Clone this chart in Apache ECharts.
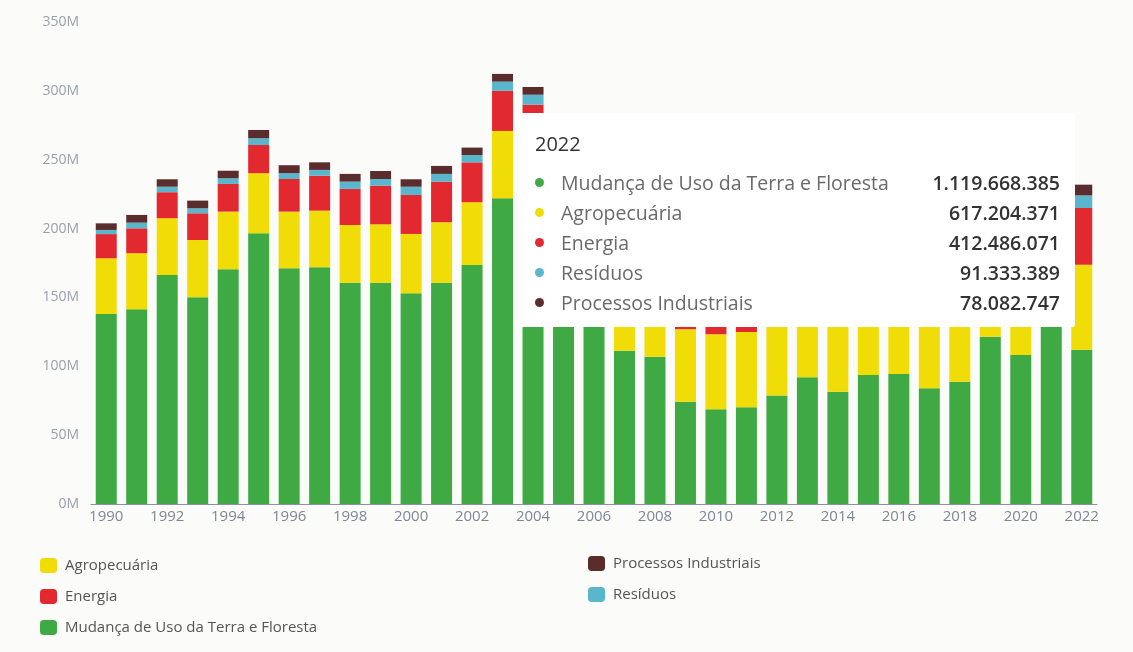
<!DOCTYPE html>
<html>
<head>
<meta charset="utf-8">
<script src="https://cdn.jsdelivr.net/npm/echarts@6/dist/echarts.min.js"></script>
<style>
  html, body { margin: 0; padding: 0; background: #fbfbfa; }
  #chart { width: 1133px; height: 652px; }
</style>
</head>
<body>
<div id="chart"></div>
<script>
// emissions per year, in millions
const years = ['1990', '1991', '1992', '1993', '1994', '1995', '1996', '1997', '1998', '1999', '2000',
  '2001', '2002', '2003', '2004', '2005', '2006', '2007', '2008', '2009', '2010', '2011',
  '2012', '2013', '2014', '2015', '2016', '2017', '2018', '2019', '2020', '2021', '2022']

const mudanca = [138, 141.4, 166.3, 150.1, 170.4, 196.6, 171.2, 171.9, 160.7, 160.7, 153,
  160.7, 173.6, 222, 212, 172, 145, 111.3, 107, 74.3, 68.8, 70.2,
  78.7, 92, 81.6, 93.7, 94.4, 84, 88.8, 121.5, 108.2, 140, 111.97]
const agro = [40.4, 40.7, 41.2, 41.6, 41.9, 43.6, 41.1, 41.1, 41.9, 42.4, 43.1,
  43.9, 45.5, 48.9, 48, 50, 51, 53, 54, 52.6, 54.4, 54.7,
  56, 57, 58, 58, 59, 60, 60, 61, 61, 62, 61.72]
const energia = [17.6, 18.1, 18.9, 19.4, 20.1, 20.5, 23.7, 25.4, 26.2, 28.1, 28.3,
  29.5, 29, 29.2, 30, 30, 31, 32, 33, 32, 35, 36,
  38, 39, 41, 39, 37, 37, 36, 37, 36, 40, 41.25]
const residuos = [3, 4.1, 4, 3.6, 4.1, 4.9, 4.2, 4.2, 5.3, 4.8, 6,
  5.6, 5.3, 6.6, 7.2, 6.5, 6.7, 6.8, 7, 7.1, 7.3, 7.5,
  7.7, 7.9, 8.1, 8.3, 8.5, 8.7, 8.9, 9, 9.1, 9.2, 9.13]
const processos = [4.8, 5.6, 5.4, 5.6, 5.5, 6, 5.8, 5.5, 5.6, 5.8, 5.4,
  5.8, 5.4, 5.6, 5.6, 5.8, 6, 6.2, 6.4, 6, 6.8, 7,
  7, 7.2, 7.1, 7, 6.8, 7, 7.2, 7.4, 7.3, 7.8, 7.81]

// the tooltip shown for 2022, as printed
const tipYear = '2022'
const tipNames = ['Mudança de Uso da Terra e Floresta', 'Agropecuária', 'Energia', 'Resíduos', 'Processos Industriais']
const tipValues = [1119668385, 617204371, 412486071, 91333389, 78082747]

const COLORS = {
  'Mudança de Uso da Terra e Floresta': '#3faa44',
  'Agropecuária': '#f0dc06',
  'Energia': '#e2292f',
  'Resíduos': '#5ab6cc',
  'Processos Industriais': '#5a2c2b',
}

const fmt = (v) => String(v).replace(/\B(?=(\d{3})+(?!\d))/g, '.')

const makeSeries = (name, data) => ({
  name,
  type: 'bar',
  stack: 'total',
  data,
  barWidth: 21,
  itemStyle: { color: COLORS[name] },
  emphasis: { disabled: true },
})

const legendBase = {
  orient: 'vertical',
  itemGap: 16,
  itemWidth: 17,
  itemHeight: 15,
  icon: 'roundRect',
  selectedMode: false,
  textStyle: { color: '#555', fontSize: 15, padding: [0, 0, 0, 3] },
}

const chart = echarts.init(document.getElementById('chart'))

chart.setOption({
  animation: false,
  backgroundColor: '#fbfbfa',
  textStyle: { fontFamily: '"Open Sans", sans-serif' },
  grid: { left: 91, right: 36, top: 22, bottom: 148 },
  tooltip: {
    trigger: 'axis',
    triggerOn: 'none',
    alwaysShowContent: true,
    axisPointer: { type: 'none' },
    position: [518, 113],
    transitionDuration: 0,
    backgroundColor: '#ffffff',
    borderWidth: 0,
    padding: [17, 15, 10, 17],
    extraCssText: 'box-shadow:none;border-radius:2px;width:525px;',
    formatter: () => {
      let html = `<div style="font:500 20px 'Open Sans',sans-serif;color:#333;line-height:27px;margin-bottom:10px;">${tipYear}</div>`
      tipNames.forEach((n, i) => {
        html += `<div style="display:flex;align-items:center;height:30px;font:19.5px 'Open Sans',sans-serif;">`
          + `<span style="display:inline-block;width:9px;height:9px;border-radius:50%;background:${COLORS[n]};margin-right:17px;"></span>`
          + `<span style="color:#6a6a6a;flex:1;">${n}</span>`
          + `<span style="color:#333;font-weight:600;">${fmt(tipValues[i])}</span></div>`
      })
      return html
    },
  },
  legend: [
    {
      ...legendBase,
      data: ['Agropecuária', 'Energia', 'Mudança de Uso da Terra e Floresta'],
      left: 35,
      top: 553,
    },
    {
      ...legendBase,
      data: ['Processos Industriais', 'Resíduos'],
      left: 583,
      top: 551,
    },
  ],
  xAxis: {
    type: 'category',
    data: years,
    axisLine: { lineStyle: { color: '#8a93a6' } },
    axisTick: { interval: 1, lineStyle: { color: '#8a93a6' } },
    axisLabel: { interval: 1, color: '#7d8796', fontSize: 15, margin: 5 },
  },
  yAxis: {
    type: 'value',
    min: 0,
    max: 350,
    interval: 50,
    splitLine: { show: false },
    axisLine: { show: false },
    axisTick: { show: false },
    axisLabel: { formatter: '{value}M', color: '#9aa1aa', fontSize: 14, margin: 12 },
  },
  series: [
    makeSeries('Mudança de Uso da Terra e Floresta', mudanca),
    makeSeries('Agropecuária', agro),
    makeSeries('Energia', energia),
    makeSeries('Resíduos', residuos),
    makeSeries('Processos Industriais', processos),
  ],
})

chart.dispatchAction({ type: 'showTip', seriesIndex: 0, dataIndex: years.indexOf(tipYear) })
</script>
</body>
</html>
